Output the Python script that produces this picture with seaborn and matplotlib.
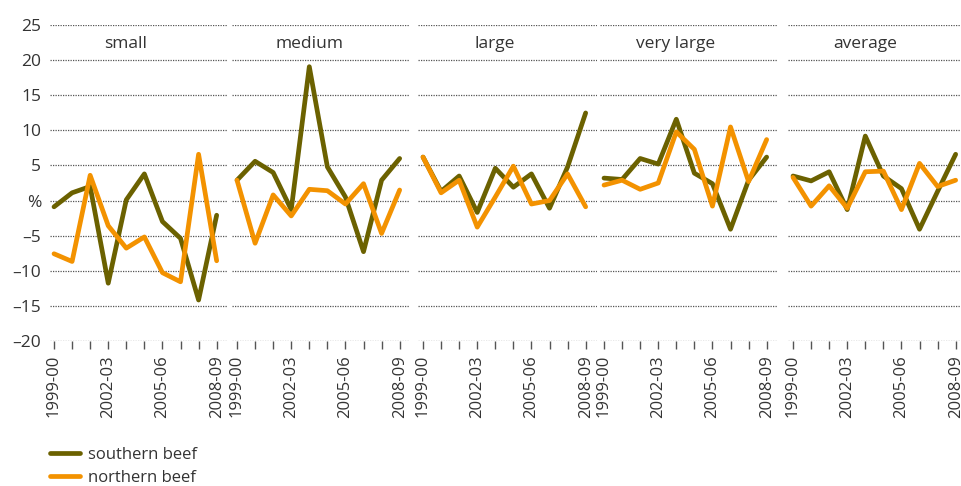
import pandas as pd
import matplotlib.pyplot as plt
import seaborn as sns
from matplotlib.ticker import FixedLocator

# ---- data (annual change, %) ----
seasons = ["1999-00", "2000-01", "2001-02", "2002-03", "2003-04",
           "2004-05", "2005-06", "2006-07", "2007-08", "2008-09"]
sizes = ["small", "medium", "large", "very large", "average"]
series_names = ["southern beef", "northern beef"]

small_southern = [-0.9, 1.1, 2.0, -11.8, 0.1, 3.8, -3.0, -5.4, -14.2, -2.1]
small_northern = [-7.6, -8.7, 3.6, -3.6, -6.8, -5.2, -10.3, -11.6, 6.6, -8.6]
medium_southern = [2.9, 5.6, 4.0, -1.3, 19.1, 4.8, 0.5, -7.3, 2.9, 6.0]
medium_northern = [2.9, -6.1, 0.8, -2.2, 1.6, 1.4, -0.5, 2.4, -4.7, 1.5]
large_southern = [6.2, 1.3, 3.5, -1.7, 4.6, 1.9, 3.8, -1.1, 4.8, 12.5]
large_northern = [6.2, 1.1, 2.9, -3.8, 0.5, 4.9, -0.5, 0.0, 3.8, -0.9]
verylarge_southern = [3.2, 3.0, 6.0, 5.2, 11.6, 3.9, 2.4, -4.1, 2.9, 6.2]
verylarge_northern = [2.2, 2.9, 1.6, 2.5, 9.8, 7.3, -0.8, 10.5, 2.7, 8.7]
average_southern = [3.5, 2.8, 4.1, -1.3, 9.2, 3.5, 1.7, -4.1, 1.3, 6.6]
average_northern = [3.3, -0.8, 2.1, -1.1, 4.1, 4.2, -1.3, 5.3, 2.0, 2.9]

y_ticks = [-20, -15, -10, -5, 0, 5, 10, 15, 20, 25]
y_ticklabels = ["\u201320", "\u201315", "\u201310", "\u20135", "%",
                "5", "10", "15", "20", "25"]
x_label_idx = [0, 3, 6, 9]

colors = {"southern beef": "#6b6100", "northern beef": "#f39200"}

values = {
    "small": (small_southern, small_northern),
    "medium": (medium_southern, medium_northern),
    "large": (large_southern, large_northern),
    "very large": (verylarge_southern, verylarge_northern),
    "average": (average_southern, average_northern),
}

rows = []
for size in sizes:
    for name, vals in zip(series_names, values[size]):
        for i, v in enumerate(vals):
            rows.append({"size": size, "series": name, "idx": i, "value": v})
df = pd.DataFrame(rows)

sns.set_style("white")
plt.rcParams["font.family"] = ["Open Sans", "DejaVu Sans"]
text_col = "#333333"

fig = plt.figure(figsize=(9.62, 4.86), dpi=100)
W, H = 962, 486
lefts = [49.5, 232.5, 418.5, 599.5, 788.5]
ax_w = 178
bottom_px, top_px = 341, 25

handles = labels = None
for k, size in enumerate(sizes):
    ax = fig.add_axes([lefts[k] / W, (H - bottom_px) / H, ax_w / W,
                       (bottom_px - top_px) / H])
    sub = df[df["size"] == size]
    sns.lineplot(data=sub, x="idx", y="value", hue="series",
                 hue_order=series_names, palette=colors, lw=3.4,
                 ax=ax, legend=(k == 0))
    if k == 0:
        handles, labels = ax.get_legend_handles_labels()
        ax.get_legend().remove()

    ax.set_xlim(-0.25, 9.6)
    ax.set_ylim(-20.05, 25.05)
    for y in y_ticks:
        ax.axhline(y, color="#555555", lw=0.9, ls=(0, (1, 1)), zorder=0)
    for s in ax.spines.values():
        s.set_visible(False)

    ax.set_xticks(range(len(seasons)))
    ax.set_xticklabels([seasons[i] if i in x_label_idx else ""
                        for i in range(len(seasons))],
                       rotation=90, fontsize=12, color=text_col)
    ax.tick_params(axis="x", length=6, width=1, color="#555555",
                   direction="out", pad=4, bottom=True)

    ax.yaxis.set_major_locator(FixedLocator(y_ticks))
    if k == 0:
        ax.set_yticklabels(y_ticklabels, fontsize=12.5, color=text_col)
        ax.tick_params(axis="y", length=0, pad=6)
    else:
        ax.set_yticklabels([])
        ax.tick_params(axis="y", length=0)
    ax.set_xlabel("")
    ax.set_ylabel("")
    ax.text(0.43, 22.4, size, transform=ax.get_yaxis_transform(),
            ha="center", va="center", fontsize=12.5, color=text_col)

fig.legend(handles, labels, loc="upper left",
           bbox_to_anchor=(50 / W, (H - 447) / H), frameon=False,
           fontsize=12, handlelength=1.8, handletextpad=0.45,
           labelspacing=0.4, borderpad=0, borderaxespad=0,
           labelcolor=text_col)

fig.savefig("out.png", dpi=100)
